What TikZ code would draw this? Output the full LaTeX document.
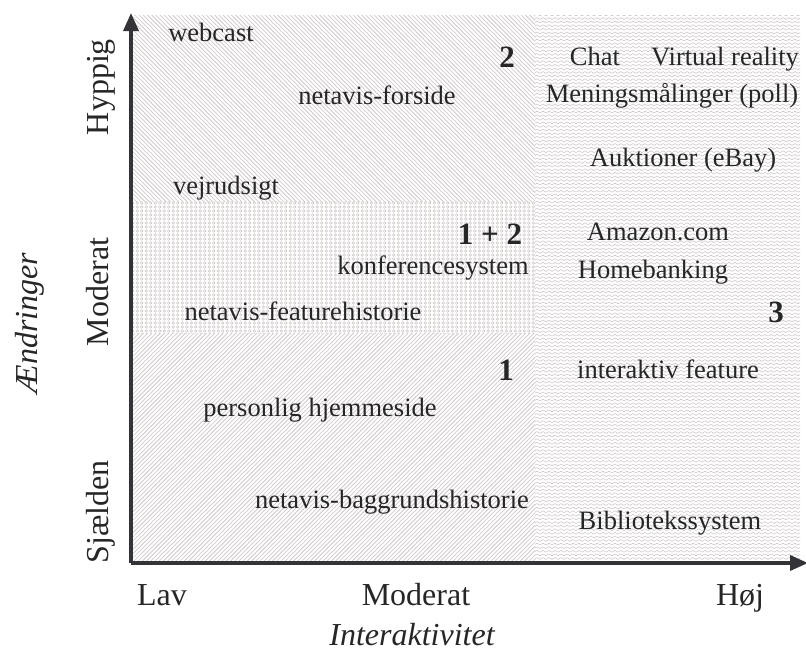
\documentclass[tikz,border=0pt]{standalone}
\usepackage{fontspec}
\setmainfont{Liberation Serif}
\usetikzlibrary{arrows.meta,patterns}
% hatch patterns
\pgfdeclarepatternformonly{nelines}{\pgfqpoint{-1pt}{-1pt}}{\pgfqpoint{5.2pt}{5.2pt}}{\pgfqpoint{4.2pt}{4.2pt}}{
    \pgfsetlinewidth{0.6pt}
    \pgfpathmoveto{\pgfqpoint{0pt}{0pt}}
    \pgfpathlineto{\pgfqpoint{4.3pt}{4.3pt}}
    \pgfusepath{stroke}
}
\pgfdeclarepatternformonly{nwlines}{\pgfqpoint{-1pt}{-1pt}}{\pgfqpoint{5.2pt}{5.2pt}}{\pgfqpoint{4.2pt}{4.2pt}}{
    \pgfsetlinewidth{0.6pt}
    \pgfpathmoveto{\pgfqpoint{0pt}{4.2pt}}
    \pgfpathlineto{\pgfqpoint{4.3pt}{-0.1pt}}
    \pgfusepath{stroke}
}
\pgfdeclarepatternformonly{loops}{\pgfqpoint{-1pt}{-1pt}}{\pgfqpoint{5pt}{5pt}}{\pgfqpoint{4.5pt}{4pt}}{
    \pgfsetlinewidth{0.4pt}
    \pgfpathcircle{\pgfqpoint{2.2pt}{2pt}}{1.3pt}
    \pgfusepath{stroke}
}
\pgfdeclarepatternformonly{waves}{\pgfqpoint{-1pt}{-1pt}}{\pgfqpoint{7pt}{5pt}}{\pgfqpoint{6pt}{3.6pt}}{
    \pgfsetlinewidth{0.5pt}
    \pgfpathmoveto{\pgfqpoint{0pt}{0pt}}
    \pgfpathlineto{\pgfqpoint{3pt}{1.8pt}}
    \pgfpathlineto{\pgfqpoint{6pt}{0pt}}
    \pgfusepath{stroke}
}
\definecolor{hatch}{RGB}{200,192,192}
\definecolor{axisgray}{RGB}{51,51,56}
\newcommand{\field}[5] {
    \fill[pattern=#5,pattern color=hatch] (#1, #2) rectangle (#3, #4);
}
\begin{document}
\begin{tikzpicture}[
        x=1pt, y=-1pt,
        lbl/.style={font=\fontsize{26.5}{30}\selectfont, inner sep=0pt,
                    text height=0.7em, text depth=0.2em, text=black!85},
        num/.style={font=\fontsize{31}{34}\selectfont\bfseries, inner sep=0pt,
                    text height=0.7em, text depth=0.2em, text=black!85},
        tick/.style={font=\fontsize{32}{36}\selectfont, inner sep=0pt, anchor=base, text=black!85},
        axtitle/.style={font=\fontsize{32}{36}\selectfont\itshape, inner sep=0pt, anchor=base, text=black!85},
        axis/.style={line width=3.5pt, draw=axisgray, -{Triangle[length=18pt,width=15pt]}}
    ]
        \useasboundingbox (0,0) rectangle (806,653);
        % fields
        \field{131}{15}{535}{201}{nwlines}
        \field{131}{201}{535}{333}{loops}
        \field{131}{333}{535}{563}{nelines}
        \field{535}{15}{800}{563}{waves}
        % axes
        \coordinate (origin) at (131, 563);
        \coordinate (ytip) at (131, 13);
        \coordinate (xtip) at (808, 563);
        \draw[axis] (origin) -- (ytip);
        \draw[axis] (origin) -- (xtip);
        % y ticks
        \node[tick,rotate=90] (hyppig) at (108, 87) {Hyppig};
        \node[tick,rotate=90] (moderaty) at (108, 292) {Moderat};
        \node[tick,rotate=90] (sjaelden) at (108, 512) {Sjælden};
        \node[axtitle,rotate=90] (ytitle) at (37, 323) {Ændringer};
        % x ticks
        \node[tick] (lav) at (162, 605) {Lav};
        \node[tick] (moderatx) at (416, 605) {Moderat};
        \node[tick] (hoej) at (740, 605) {Høj};
        \node[axtitle] (xtitle) at (412, 645) {Interaktivitet};
        % numbers
        \node[num] (two) at (507, 65) {2};
        \node[num] (onetwo) at (490, 242) {1 + 2};
        \node[num] (three) at (776, 320) {3};
        \node[num] (one) at (506, 378) {1};
        % left
        \node[lbl] (webcast) at (211, 39) {webcast};
        \node[lbl] (forside) at (377, 102) {netavis-forside};
        \node[lbl] (vejr) at (226, 192) {vejrudsigt};
        \node[lbl] (konf) at (433, 272) {konferencesystem};
        \node[lbl] (feature) at (303, 318) {netavis-featurehistorie};
        \node[lbl] (hjemme) at (320, 414) {personlig hjemmeside};
        \node[lbl] (baggrund) at (392, 506) {netavis-baggrundshistorie};
        % right
        \node[lbl] (chat) at (595, 63) {Chat};
        \node[lbl] (vr) at (725, 63) {Virtual reality};
        \node[lbl] (poll) at (672, 100) {Meningsmålinger (poll)};
        \node[lbl] (ebay) at (683, 164) {Auktioner (eBay)};
        \node[lbl] (amazon) at (658, 238) {Amazon.com};
        \node[lbl] (bank) at (653, 276) {Homebanking};
        \node[lbl] (interaktiv) at (668, 376) {interaktiv feature};
        \node[lbl] (bibliotek) at (670, 527) {Bibliotekssystem};
\end{tikzpicture}
\end{document}
